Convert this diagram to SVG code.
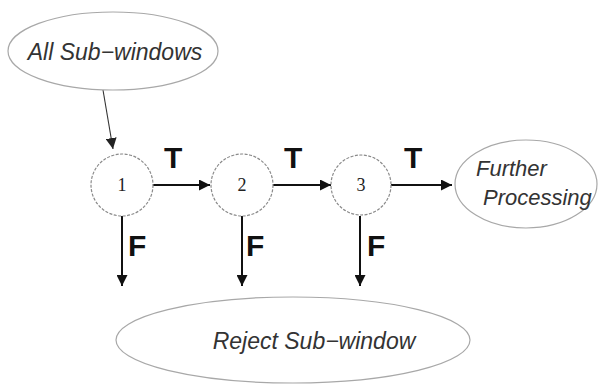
<svg xmlns="http://www.w3.org/2000/svg" width="598" height="385" viewBox="0 0 598 385">
<defs>
<style>
.ell{fill:#fff;stroke:#a8a8a8;stroke-width:1.2}
.cir{fill:#fff;stroke:#8a8a8a;stroke-width:1.2;stroke-dasharray:3 1.5}
.lbl{font-family:"Liberation Sans",Arial,sans-serif;font-style:italic;font-size:23px;fill:#333}
.num{font-family:"Liberation Serif","Times New Roman",serif;font-size:18px;fill:#222;text-anchor:middle}
.tf{font-family:"Liberation Sans",Arial,sans-serif;font-weight:bold;font-size:30px;fill:#111}
.edge{stroke:#111;stroke-width:2;fill:none}
.thin{stroke:#333;stroke-width:1.1;fill:none}
</style>
<marker id="ah" viewBox="0 0 10 10" refX="10" refY="5" markerWidth="5.5" markerHeight="5.5" orient="auto" markerUnits="strokeWidth">
<path d="M0,0 L10,5 L0,10 z" fill="#111"/>
</marker>
<marker id="ahs" viewBox="0 0 10 10" refX="10" refY="5" markerWidth="10" markerHeight="10" orient="auto" markerUnits="strokeWidth">
<path d="M0,0 L10,5 L0,10 z" fill="#222"/>
</marker>
</defs>
<g id="connectors">
<line class="thin" x1="103" y1="90" x2="113" y2="149" marker-end="url(#ahs)"/>
<line class="edge" x1="152" y1="185" x2="210" y2="185" marker-end="url(#ah)"/>
<line class="edge" x1="273" y1="185" x2="331" y2="185" marker-end="url(#ah)"/>
<line class="edge" x1="391" y1="185" x2="452" y2="185" marker-end="url(#ah)"/>
<line class="edge" x1="122" y1="216" x2="122" y2="286" marker-end="url(#ah)"/>
<line class="edge" x1="242" y1="216" x2="242" y2="286" marker-end="url(#ah)"/>
<line class="edge" x1="360" y1="216" x2="360" y2="286" marker-end="url(#ah)"/>
<text class="tf" x="164" y="168">T</text>
<text class="tf" x="284" y="168">T</text>
<text class="tf" x="404" y="168">T</text>
<text class="tf" x="128" y="256">F</text>
<text class="tf" x="246" y="256">F</text>
<text class="tf" x="367" y="256">F</text>
</g>
<g id="all-subwindows">
<ellipse class="ell" cx="113" cy="51" rx="105" ry="39"/>
<text class="lbl" x="115" y="60" text-anchor="middle">All Sub−windows</text>
</g>
<g id="stage1">
<circle class="cir" cx="122" cy="185" r="31"/>
<text class="num" x="122" y="191">1</text>
</g>
<g id="stage2">
<circle class="cir" cx="242" cy="185" r="31"/>
<text class="num" x="242" y="191">2</text>
</g>
<g id="stage3">
<circle class="cir" cx="361" cy="185" r="30"/>
<text class="num" x="361" y="191">3</text>
</g>
<g id="further-processing">
<ellipse class="ell" cx="526" cy="184" rx="71" ry="44"/>
<text class="lbl" x="476" y="176" style="font-size:22px">Further</text>
<text class="lbl" x="483" y="205" style="font-size:22px">Processing</text>
</g>
<g id="reject">
<ellipse class="ell" cx="293" cy="340" rx="177" ry="43"/>
<text class="lbl" x="314" y="349" text-anchor="middle">Reject Sub−window</text>
</g>
</svg>
